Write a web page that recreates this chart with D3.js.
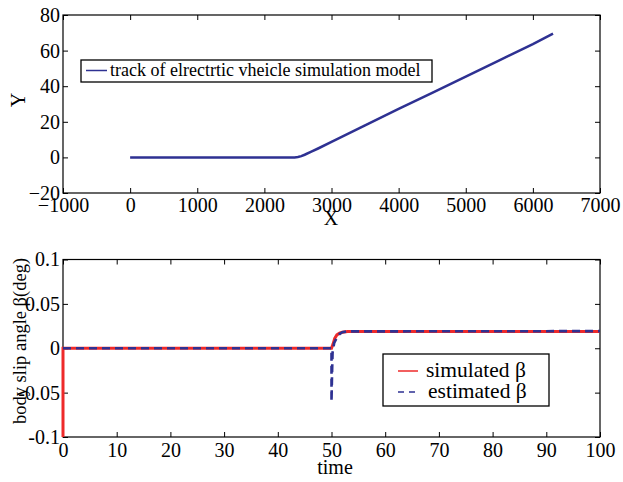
<!DOCTYPE html>
<html><head><meta charset="utf-8">
<script src="https://cdn.jsdelivr.net/npm/d3@7"></script>
<style>body{margin:0;background:#fff}svg{display:block}svg text{font-family:"Liberation Serif","Times New Roman",serif;fill:#000}</style>
</head><body>
<svg id="c" width="623" height="482"></svg>
<script>
// Top chart: vehicle track
const trackX = [0, 500, 1000, 1500, 2000, 2450, 2500, 2550, 2600, 2700, 2800, 3000, 3500, 4000, 4500, 5000, 5500, 6000, 6300];
const trackY = [0, 0, 0, 0, 0, 0, 0.2, 0.7, 1.5, 3.2, 5, 8.7, 18, 27.2, 36.3, 45.4, 54.5, 63.6, 69.5];
const topXTicks = [-1000, 0, 1000, 2000, 3000, 4000, 5000, 6000, 7000];
const topYTicks = [-20, 0, 20, 40, 60, 80];
const topLegend = ["track of elrectrtic vheicle simulation model"];

// Bottom chart: body slip angle
const simTime = [0, 0, 50, 50.3, 50.6, 51, 51.5, 52, 53, 55, 100];
const simulated = [-0.1, 0, 0, 0.005, 0.011, 0.015, 0.017, 0.018, 0.0188, 0.019, 0.019];
const estTime = [0, 50, 50, 50.1, 50.2, 50.5, 51, 51.5, 52, 53, 100];
const estimated = [0, 0, -0.06, -0.03, -0.005, 0.006, 0.012, 0.016, 0.018, 0.019, 0.0193];
const botXTicks = [0, 10, 20, 30, 40, 50, 60, 70, 80, 90, 100];
const botYTicks = [-0.1, -0.05, 0, 0.05, 0.1];
const botYLabels = ["-0.1", "-0.05", "0", "0.05", "0.1"];
const botLegend = ["simulated β", "estimated β"];

const svg = d3.select("#c");
const BLUE = "#2e3192", RED = "#ee2a2a";
const TICKFS = "20px";

function styleTicks(a) {
  a.select(".domain").remove();
  a.attr("font-family", null).attr("font-size", null);
  a.selectAll("text").style("font-size", TICKFS).style("font-family", '"Liberation Serif", serif');
}

function frame(g, x, y, xt, yt, yfmt, xpad) {
  const [x0, x1] = x.range(), [y1, y0] = y.range();
  g.append("g").attr("transform", `translate(0,${y1})`)
    .call(d3.axisBottom(x).tickValues(xt).tickSizeInner(-5).tickSizeOuter(0).tickPadding(xpad).tickFormat(d3.format("d")))
    .call(styleTicks);
  g.append("g").attr("transform", `translate(0,${y0})`)
    .call(d3.axisTop(x).tickValues(xt).tickSizeInner(-5).tickSizeOuter(0).tickFormat(""))
    .call(a => a.select(".domain").remove());
  g.append("g").attr("transform", `translate(${x0},0)`)
    .call(d3.axisLeft(y).tickValues(yt).tickSizeInner(-5).tickSizeOuter(0).tickPadding(3).tickFormat(yfmt))
    .call(styleTicks);
  g.append("g").attr("transform", `translate(${x1},0)`)
    .call(d3.axisRight(y).tickValues(yt).tickSizeInner(-5).tickSizeOuter(0).tickFormat(""))
    .call(a => a.select(".domain").remove());
  g.selectAll(".tick line").attr("stroke", "#000");
  g.append("rect").attr("x", x0).attr("y", y0).attr("width", x1 - x0).attr("height", y1 - y0)
    .attr("fill", "none").attr("stroke", "#000").attr("stroke-width", 1.2);
}

function label(g, x, y, size, txt, anchor, rot) {
  const t = g.append("text").attr("x", x).attr("y", y).style("font-size", size + "px").text(txt);
  if (anchor) t.attr("text-anchor", anchor);
  if (rot) t.attr("x", 0).attr("y", 0).attr("transform", `translate(${x},${y}) rotate(-90)`);
  return t;
}

// ---- top ----
const xT = d3.scaleLinear().domain([-1000, 7000]).range([63, 600]);
const yT = d3.scaleLinear().domain([-20, 80]).range([193, 15]);
const gT = svg.append("g");
frame(gT, xT, yT, topXTicks, topYTicks, d3.format("d"), 4.5);
gT.append("path").datum(trackX.map((v, i) => [v, trackY[i]]))
  .attr("d", d3.line().x(d => xT(d[0])).y(d => yT(d[1])))
  .attr("fill", "none").attr("stroke", BLUE).attr("stroke-width", 2.5);
label(gT, 331, 225, 20, "X", "middle");
label(gT, 25, 100, 20, "Y", "middle", true);
gT.append("rect").attr("x", 81).attr("y", 60).attr("width", 351).attr("height", 22)
  .attr("fill", "#fff").attr("stroke", "#000").attr("stroke-width", 1.3);
gT.append("line").attr("x1", 86).attr("x2", 107).attr("y1", 70.5).attr("y2", 70.5).attr("stroke", BLUE).attr("stroke-width", 1.5);
label(gT, 110, 75.5, 18, topLegend[0]);

// ---- bottom ----
const xB = d3.scaleLinear().domain([0, 100]).range([63, 600]);
const yB = d3.scaleLinear().domain([-0.1, 0.1]).range([437, 259.5]);
const gB = svg.append("g");
frame(gB, xB, yB, botXTicks, botYTicks, (d, i) => botYLabels[i], 5.8);
gB.append("path").datum(simTime.map((v, i) => [v, simulated[i]]))
  .attr("d", d3.line().x(d => xB(d[0])).y(d => yB(d[1])))
  .attr("fill", "none").attr("stroke", RED).attr("stroke-width", 3);
gB.append("path").datum(estTime.map((v, i) => [v, estimated[i]]))
  .attr("d", d3.line().x(d => xB(d[0])).y(d => yB(d[1])))
  .attr("fill", "none").attr("stroke", BLUE).attr("stroke-width", 2.6).attr("stroke-dasharray", "8,5");
label(gB, 335, 474, 20, "time", "middle");
label(gB, 26, 341, 18.5, "body slip angle β(deg)", "middle", true);
gB.append("rect").attr("x", 383).attr("y", 354).attr("width", 166).attr("height", 52)
  .attr("fill", "#fff").attr("stroke", "#000").attr("stroke-width", 1.3);
gB.append("line").attr("x1", 398).attr("x2", 418).attr("y1", 371).attr("y2", 371).attr("stroke", RED).attr("stroke-width", 1.5);
gB.append("line").attr("x1", 398).attr("x2", 420).attr("y1", 392).attr("y2", 392).attr("stroke", BLUE).attr("stroke-width", 1.5).attr("stroke-dasharray", "6,5");
label(gB, 426, 377, 21.5, botLegend[0]);
label(gB, 428, 398, 21.5, botLegend[1]);
</script>
</body></html>
